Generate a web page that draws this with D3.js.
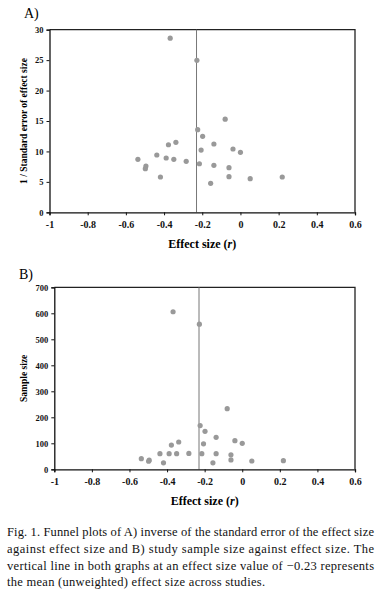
<!DOCTYPE html>
<html>
<head>
<meta charset="utf-8">
<script src="https://cdn.jsdelivr.net/npm/d3@7"></script>
<style>
  body { margin: 0; background: #fff; }
  svg { display: block; font-family: "Liberation Serif", "Times New Roman", serif; }
</style>
</head>
<body>
<script>
// effect size (r) per study, shared by both panels
const effectSize = [-0.368, -0.228, -0.080, -0.224, -0.198, -0.139, -0.039, 0.0, -0.206,
  -0.338, -0.377, -0.438, -0.389, -0.349, -0.284, -0.215, -0.139, -0.06, -0.06,
  -0.537, -0.495, -0.498, -0.419, -0.156, 0.051, 0.219];
// panel A: 1 / standard error of effect size
const invSE = [28.6, 24.97, 15.3, 13.57, 12.49, 11.22, 10.4, 9.86, 10.23,
  11.5, 11.1, 9.41, 8.92, 8.7, 8.38, 7.98, 7.72, 7.33, 5.85,
  8.7, 7.6, 7.16, 5.8, 4.76, 5.52, 5.8];
// panel B: sample size
const sampleSize = [606, 558, 233, 168, 146, 123, 110, 100, 98,
  105, 93, 60, 60, 60, 61, 60, 60, 56, 36,
  41, 35, 31, 25, 25, 32, 33];

const meanEffect = -0.23;
const xTicks = [-1, -0.8, -0.6, -0.4, -0.2, 0, 0.2, 0.4, 0.6];
const yTicksA = [0, 5, 10, 15, 20, 25, 30];
const yTicksB = [0, 100, 200, 300, 400, 500, 600, 700];

const captionLines = [
  "Fig. 1. Funnel plots of A) inverse of the standard error of the effect size",
  "against effect size and B) study sample size against effect size. The",
  "vertical line in both graphs at an effect size value of \u22120.23 represents",
  "the mean (unweighted) effect size across studies."
];

const svg = d3.select("body").append("svg")
    .attr("width", 386)
    .attr("height", 602);

function drawPanel(cfg) {
  const g = svg.append("g")
      .attr("transform", `translate(${cfg.left},${cfg.top})`);

  const x = d3.scaleLinear().domain([-1, 0.6]).range([0, cfg.width]);
  const y = d3.scaleLinear().domain(cfg.yDomain).range([cfg.height, 0]);

  // panel letter
  svg.append("text")
      .attr("x", cfg.labelX)
      .attr("y", cfg.labelY)
      .style("font-size", "14px")
      .text(cfg.label);

  // frame top + right
  g.append("path")
      .attr("d", `M0,0H${cfg.width}V${cfg.height}`)
      .attr("fill", "none")
      .attr("stroke", "#222")
      .attr("stroke-width", 1.3);

  // mean line
  g.append("line")
      .attr("x1", x(meanEffect)).attr("x2", x(meanEffect))
      .attr("y1", 0).attr("y2", cfg.height)
      .attr("stroke", "#777")
      .attr("stroke-width", 1);

  // points
  g.selectAll(".dot")
      .data(effectSize.map((e, i) => ({e: e, v: cfg.values[i]})))
    .enter().append("circle")
      .attr("class", "dot")
      .attr("cx", d => x(d.e))
      .attr("cy", d => y(d.v))
      .attr("r", 2.6)
      .attr("fill", "#999");

  // x axis
  const xa = g.append("g")
      .attr("transform", `translate(0,${cfg.height})`)
      .call(d3.axisBottom(x).tickValues(xTicks).tickSize(3).tickPadding(6)
        .tickFormat(d => String(+d.toFixed(1))));
  xa.selectAll("text").style("font-size", "10px");

  // y axis
  const ya = g.append("g")
      .call(d3.axisLeft(y).tickValues(cfg.yTicks).tickSize(3).tickPadding(3));
  ya.selectAll("text").style("font-size", "8.5px");

  [xa, ya].forEach(a => {
    a.attr("font-family", null)
      .style("font-weight", "bold");
    a.selectAll("text").attr("fill", "#111");
    a.select(".domain").attr("stroke", "#111").attr("stroke-width", 1.3);
    a.selectAll(".tick line").attr("stroke", "#111");
  });

  // x title
  const xt = g.append("text")
      .attr("x", cfg.width / 2)
      .attr("y", cfg.height + 36)
      .attr("text-anchor", "middle")
      .style("font-size", "12px")
      .style("font-weight", "bold");
  xt.append("tspan").text("Effect size (");
  xt.append("tspan").style("font-style", "italic").text("r");
  xt.append("tspan").text(")");

  // y title
  svg.append("text")
      .attr("transform", `translate(${cfg.yTitleX},${cfg.top + cfg.height / 2}) rotate(-90)`)
      .attr("text-anchor", "middle")
      .style("font-size", "9.5px")
      .style("font-weight", "bold")
      .text(cfg.yTitle);
}

drawPanel({
  label: "A)", labelX: 24, labelY: 18,
  left: 49.5, top: 29.7, width: 305.5, height: 182.6,
  yDomain: [0, 30], yTicks: yTicksA, values: invSE,
  yTitle: "1 / Standard error of effect size", yTitleX: 27
});

drawPanel({
  label: "B)", labelX: 19, labelY: 279,
  left: 54.3, top: 287.3, width: 300.7, height: 182,
  yDomain: [0, 700], yTicks: yTicksB, values: sampleSize,
  yTitle: "Sample size", yTitleX: 27
});

// caption, justified lines
const cap = svg.append("g");
cap.selectAll("text")
    .data(captionLines)
  .enter().append("text")
    .attr("x", 7)
    .attr("y", (d, i) => 536 + i * 16.8)
    .attr("textLength", (d, i) => i < 3 ? 367 : 258)
    .attr("lengthAdjust", "spacing")
    .style("font-size", "12.5px")
    .attr("fill", "#111")
    .text(d => d);
</script>
</body>
</html>
